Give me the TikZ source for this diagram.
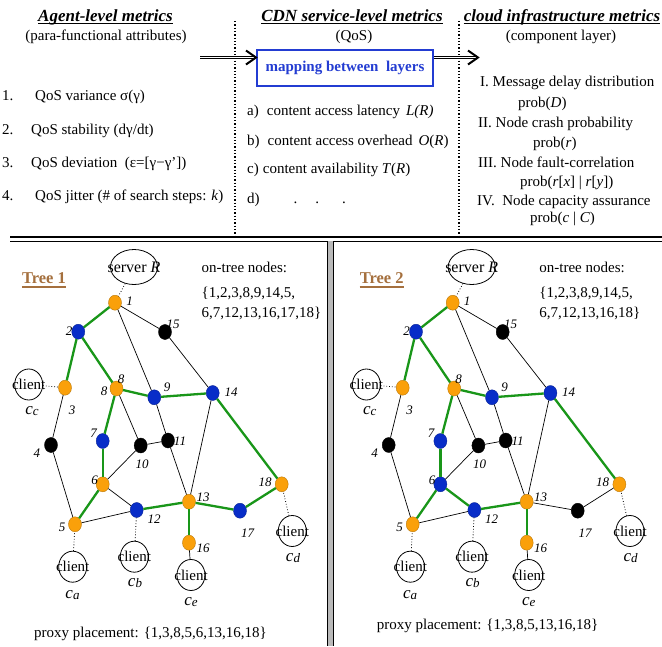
\documentclass[tikz,border=0pt]{standalone}
\usepackage{fontspec}
\setmainfont{Liberation Serif}
\usetikzlibrary{shapes.geometric,calc}

\definecolor{proxyorange}{RGB}{250,160,10}
\definecolor{relayblue}{RGB}{8,45,200}
\definecolor{treegreen}{RGB}{25,150,25}
\definecolor{titlebrown}{RGB}{165,112,62}
\definecolor{mapblue}{RGB}{35,60,210}

\newcommand{\fsz}[1]{\fontsize{#1}{#1}\selectfont}

\tikzset{
  vtx/.style={ellipse,minimum width=13pt,minimum height=15pt,inner sep=0pt,
              line width=0.4pt,draw=#1!75!black,fill=#1},
  prx/.style={vtx=proxyorange},
  fwd/.style={vtx=relayblue},
  idle/.style={vtx=black},
  link/.style={line width=0.7pt,black},
  tree/.style={line width=2.3pt,treegreen},
  tap/.style={line width=0.8pt,dotted},
  num/.style={inner sep=0pt,font=\fsz{13}\itshape},
  host/.style={ellipse,draw,line width=0.8pt,inner sep=0pt,
               minimum width=28pt,minimum height=31pt,font=\fsz{15}},
  hostlab/.style={inner sep=0pt,font=\fsz{17}\itshape},
  txt/.style={inner sep=0pt,font=\fsz{15}},
  head/.style={inner sep=0pt,font=\fsz{17}\bfseries\itshape},
  treetitle/.style={inner sep=0pt,font=\fsz{16.5}\bfseries,text=titlebrown},
  uline/.style={line width=1.1pt},
  colsep/.style={line width=1.3pt,dotted},
  dbl/.style={double,double distance=1.6pt,line width=0.8pt},
  chev/.style={line width=2pt,line join=miter},
}

% overlay network shared by both trees; node colours of 6 and 17 and the
% edges 6-12, 13-17, 17-18 come from the enclosing scope
\newcommand{\netgraph}{%
  \node[prx]   (n1)  at (115,302.7) {};
  \node[fwd]   (n2)  at (78.3,331.7) {};
  \node[idle]  (n15) at (165,332) {};
  \node[prx]   (n3)  at (65,387.7) {};
  \node[prx]   (n8)  at (116.5,388.5) {};
  \node[fwd]   (n9)  at (154.3,397.3) {};
  \node[fwd]   (n14) at (212.7,393) {};
  \node[idle]  (n4)  at (51,445) {};
  \node[fwd]   (n7)  at (102.7,441) {};
  \node[idle]  (n10) at (140.7,445.5) {};
  \node[idle]  (n11) at (168,440.5) {};
  \node[col6]  (n6)  at (102.7,484.3) {};
  \node[prx]   (n18) at (281.7,484.3) {};
  \node[fwd]   (n12) at (136.7,510) {};
  \node[prx]   (n13) at (189,501.7) {};
  \node[col17] (n17) at (240,510.7) {};
  \node[prx]   (n5)  at (75,524.3) {};
  \node[prx]   (n16) at (189,542.7) {};
  % thin overlay links
  \draw[link] (n1) -- (n9);
  \draw[link] (n1) -- (n15);
  \draw[link] (n15) -- (n14);
  \draw[link] (n3) -- (n4);
  \draw[link] (n4) -- (n5);
  \draw[link] (n8) -- (n10);
  \draw[link] (n9) -- (n11);
  \draw[link] (n10) -- (n11);
  \draw[link] (n10) -- (n6);
  \draw[link] (n5) -- (n12);
  \draw[link] (n11) -- (n13);
  \draw[link] (n14) -- (n13);
  % distribution tree
  \draw[tree] (n1) -- (n2);
  \draw[tree] (n2) -- (n3);
  \draw[tree] (n2) -- (n8);
  \draw[tree] (n8) -- (n9);
  \draw[tree] (n9) -- (n14);
  \draw[tree] (n14) -- (n18);
  \draw[tree] (n8) -- (n7);
  \draw[tree] (n7) -- (n6);
  \draw[tree] (n6) -- (n5);
  \draw[tree] (n12) -- (n13);
  \draw[tree] (n13) -- (n16);
  \draw[e612] (n6) -- (n12);
  \draw[e1317] (n13) -- (n17);
  \draw[e1317] (n17) -- (n18);
  % node numbers
  \node[num] (l1)  at (129.5,301) {1};
  \node[num] (l2)  at (69,331) {2};
  \node[num] (l15) at (173,324) {15};
  \node[num] (l3)  at (72,410) {3};
  \node[num] (l8)  at (121,379) {8};
  \node[num] (l9)  at (167,387) {9};
  \node[num] (l14) at (231,392) {14};
  \node[num] (l4)  at (37,453) {4};
  \node[num] (l7)  at (93.5,433) {7};
  \node[num] (l10) at (142,464) {10};
  \node[num] (l11) at (180,441) {11};
  \node[num] (l6)  at (94.5,480) {6};
  \node[num] (l18) at (265,482) {18};
  \node[num] (l13) at (203,497) {13};
  \node[num] (l12) at (154,519) {12};
  \node[num] (l17) at (247.5,533) {17};
  \node[num] (l5)  at (62,527) {5};
  \node[num] (l16) at (203,548) {16};
  % server and clients
  \node[host,minimum width=47pt,minimum height=35pt,font=\fsz{16}] (srv) at (134,267)
       {\makebox[0pt]{server \textit{R}}};
  \node[host] (cC) at (28.7,384.5) {\makebox[0pt]{client}};
  \node[host] (cA) at (72.7,566.7) {\makebox[0pt]{client}};
  \node[host] (cB) at (134.3,556.7) {\makebox[0pt]{client}};
  \node[host] (cE) at (191,575) {\makebox[0pt]{client}};
  \node[host] (cD) at (292.3,531) {\makebox[0pt]{client}};
  \node[hostlab] (lcC) at (32,411) {c\raisebox{-1.5pt}{\fsz{13}c}};
  \node[hostlab] (lcA) at (72.5,595) {c\raisebox{-1.5pt}{\fsz{13}a}};
  \node[hostlab] (lcB) at (135,583) {c\raisebox{-1.5pt}{\fsz{13}b}};
  \node[hostlab] (lcE) at (191,602) {c\raisebox{-1.5pt}{\fsz{13}e}};
  \node[hostlab] (lcD) at (293,558) {c\raisebox{-1.5pt}{\fsz{13}d}};
  \draw[tap] (srv) -- (n1);
  \draw[tap] (cC) -- (n3);
  \draw[tap] (cA) -- (n5);
  \draw[tap] (cB) -- (n12);
  \draw[tap] (cD) -- (n18);
  \draw[link] (cE) -- (n16);
}

\begin{document}
\begin{tikzpicture}[x=1pt,y=-1pt]
\useasboundingbox (0,0) rectangle (662,646);
\fill[white] (0,0) rectangle (662,646);

% ---- column headings ----
\node[head,anchor=base] (hA) at (105.5,21) {Agent-level metrics};
\draw[uline] ([yshift=-2.8pt]hA.base west) -- ([yshift=-2.8pt]hA.base east);
\node[txt,anchor=base] (sA) at (106,40) {(para-functional attributes)};
\node[head,anchor=base] (hB) at (352,21) {CDN service-level metrics};
\draw[uline] ([yshift=-2.8pt]hB.base west) -- ([yshift=-2.8pt]hB.base east);
\node[txt,anchor=base] (sB) at (354,40) {(QoS)};
\node[head,anchor=base] (hC) at (562,21) {cloud infrastructure metrics};
\draw[uline] ([yshift=-2.8pt]hC.base west) -- ([yshift=-2.8pt]hC.base east);
\node[txt,anchor=base] (sC) at (561,40) {(component layer)};

% column separators
\draw[colsep] (235,21) -- (235,237);
\draw[colsep] (459,21) -- (459,237);

% mapping box and arrows
\node[draw=mapblue,line width=2pt,minimum width=176pt,minimum height=36pt,
      inner sep=0pt,font=\fsz{15}\bfseries,text=mapblue] (map) at (345,68)
      {mapping between\ \ layers};
\coordinate (inL) at (200,57.5);
\coordinate (tipL) at (map.west |- inL);
\draw[dbl,shorten >=1.5pt] (inL) -- (tipL);
\draw[chev] ($(tipL)+(-10,-7)$) -- (tipL) -- ($(tipL)+(-10,7)$);
\coordinate (outR) at (map.east |- inL);
\coordinate (tipR) at (478,57.5);
\draw[dbl,shorten >=1.5pt] (outR) -- (tipR);
\draw[chev] ($(tipR)+(-10,-7)$) -- (tipR) -- ($(tipR)+(-10,7)$);

% ---- agent-level list ----
\node[txt,anchor=base west] (i1) at (2,100) {1.};
\node[txt,anchor=base west] (t1) at (35,100) {QoS variance σ(γ)};
\node[txt,anchor=base west] (i2) at (2,134) {2.};
\node[txt,anchor=base west] (t2) at (31,134) {QoS stability (dγ/dt)};
\node[txt,anchor=base west] (i3) at (2,167) {3.};
\node[txt,anchor=base west] (t3) at (31,167) {QoS deviation\ \ (ε=[γ−γ’])};
\node[txt,anchor=base west] (i4) at (2,200) {4.};
\node[txt,anchor=base west] (t4) at (35,200) {QoS jitter (\# of search steps: \textit{k})};

% ---- service-level list ----
\node[txt,anchor=base west] (ma) at (247,115)
   {a)\hspace{8pt}content access latency\hspace{6pt}\textit{L(R)}};
\node[txt,anchor=base west] (mb) at (247,145)
   {b)\hspace{8pt}content access overhead\hspace{6pt}\textit{O}(\textit{R})};
\node[txt,anchor=base west] (mc) at (247,173)
   {c)\hspace{4pt}content availability \textit{T}(\textit{R})};
\node[txt,anchor=base west] (md) at (247,203)
   {d)\hspace{34pt}.\hspace{18pt}.\hspace{23pt}.};

% ---- infrastructure list ----
\node[txt,anchor=base west] (r1) at (480,86) {I. Message delay distribution};
\node[txt,anchor=base west] (r1p) at (518,107) {prob(\textit{D})};
\node[txt,anchor=base west] (r2) at (478,127) {II. Node crash probability};
\node[txt,anchor=base west] (r2p) at (533,147) {prob(\textit{r})};
\node[txt,anchor=base west] (r3) at (478,167) {III. Node fault-correlation};
\node[txt,anchor=base west] (r3p) at (520,186)
   {prob(\textit{r}[\textit{x}] | \textit{r}[\textit{y}])};
\node[txt,anchor=base west] (r4) at (477,205) {IV.\ \ Node capacity assurance};
\node[txt,anchor=base west] (r4p) at (530,222) {prob(\textit{c} | \textit{C})};

% ---- frame lines ----
\draw[line width=1.2pt] (10,237) -- (662,237);
\draw[line width=1pt] (10,241) -- (662,241);
\fill[gray!55] (327,241) rectangle (333,646);
\draw[line width=0.9pt] (327,241) -- (327,646) (333,241) -- (333,646);

% ---- tree 1 ----
\begin{scope}[name prefix=ta-, col6/.style={prx}, col17/.style={fwd},
              e612/.style={link}, e1317/.style={tree}]
  \netgraph
  \node[num] (l8b) at (104,391) {8};
  \node[treetitle,anchor=base] (tt) at (44,283) {Tree 1};
  \draw[uline,titlebrown] ([yshift=-4pt]tt.base west) -- ([yshift=-4pt]tt.base east);
  \node[txt,anchor=base west] (on1) at (201.5,272.3) {on-tree nodes:};
  \node[txt,anchor=base west] (on2) at (201.5,297) {\{1,2,3,8,9,14,5,};
  \node[txt,anchor=base west] (on3) at (201.5,317) {6,7,12,13,16,17,18\}};
  \node[txt,anchor=base west] (pp) at (34,637) {proxy placement: \{1,3,8,5,6,13,16,18\}};
\end{scope}

% ---- tree 2 ----
\begin{scope}[xshift=337.7pt, name prefix=tb-, col6/.style={fwd}, col17/.style={idle},
              e612/.style={tree}, e1317/.style={link}]
  \netgraph
  \node[treetitle,anchor=base] (tt) at (44,283) {Tree 2};
  \draw[uline,titlebrown] ([yshift=-4pt]tt.base west) -- ([yshift=-4pt]tt.base east);
  \node[txt,anchor=base west] (on1) at (201.5,272.3) {on-tree nodes:};
  \node[txt,anchor=base west] (on2) at (201.5,297) {\{1,2,3,8,9,14,5,};
  \node[txt,anchor=base west] (on3) at (201.5,317) {6,7,12,13,16,18\}};
  \node[txt,anchor=base west] (pp) at (39,629) {proxy placement: \{1,3,8,5,13,16,18\}};
\end{scope}
\end{tikzpicture}
\end{document}
